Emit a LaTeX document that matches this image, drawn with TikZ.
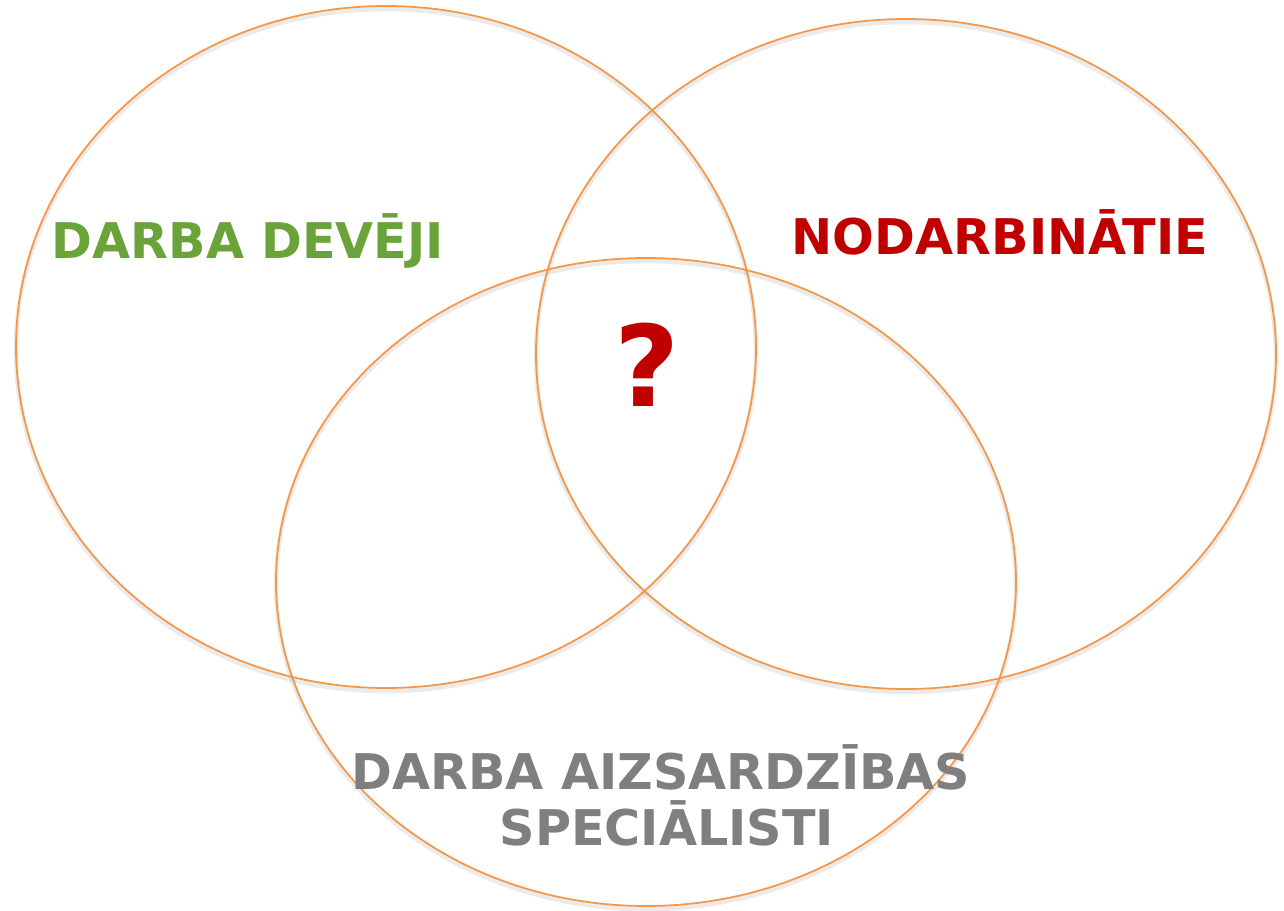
\documentclass[tikz,border=0pt]{standalone}
\usepackage{fontspec}
\setmainfont{DejaVu Sans}
\usepackage{xcolor}
\usepackage{tikz}
\usetikzlibrary{backgrounds}
\usetikzlibrary{calc}
\pgfdeclarelayer{edgelayer}
\pgfdeclarelayer{nodelayer}
\pgfsetlayers{background,edgelayer,nodelayer,main}
\definecolor{ringorange}{RGB}{247,150,70}
\definecolor{devgreen}{RGB}{107,163,59}
\definecolor{nodred}{RGB}{192,0,0}
\definecolor{specgray}{RGB}{127,127,127}
\tikzstyle{ring}=[draw=ringorange,line width=1pt]
\tikzstyle{ring shadow}=[draw=black,opacity=0.08,line width=2.6pt]
\tikzstyle{group label}=[inner sep=0pt,anchor=base,font=\fontsize{28}{34}\bfseries\selectfont]
\tikzstyle{dl}=[group label,text=devgreen]
\tikzstyle{nl}=[group label,text=nodred]
\tikzstyle{sl}=[group label,text=specgray]
\tikzstyle{qm}=[inner sep=0pt,anchor=base,text=nodred,font=\fontsize{64}{70}\bfseries\selectfont]

\begin{document}
\begin{tikzpicture}[x=0.02cm,y=-0.02cm]
	\useasboundingbox (0,0) rectangle (1284,910);
	\begin{pgfonlayer}{nodelayer}
		\node [style=dl] (dev) at (248, 258) {DARBA DEVĒJI};
		\node [style=nl] (nod) at (1000, 254) {NODARBINĀTIE};
		\node [style=qm] (q) at (647, 406) {?};
		\node [style=sl] (spec1) at (661, 789) {DARBA AIZSARDZĪBAS};
		\node [style=sl] (spec2) at (667, 845) {SPECIĀLISTI};
	\end{pgfonlayer}
	\begin{pgfonlayer}{background}
		\draw[style=ring shadow] (386, 350) ellipse [x radius=370, y radius=341];
		\draw[style=ring shadow] (906, 357) ellipse [x radius=370, y radius=335];
		\draw[style=ring shadow] (646, 585) ellipse [x radius=370, y radius=324];
	\end{pgfonlayer}
	\begin{pgfonlayer}{edgelayer}
		\draw[style=ring] (386, 347) ellipse [x radius=370, y radius=341];
		\draw[style=ring] (906, 354) ellipse [x radius=370, y radius=335];
		\draw[style=ring] (646, 582) ellipse [x radius=370, y radius=324];
	\end{pgfonlayer}
\end{tikzpicture}
\end{document}
